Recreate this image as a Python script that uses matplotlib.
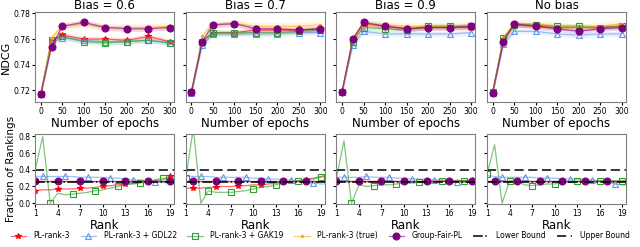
import numpy as np
import matplotlib.pyplot as plt
from matplotlib.colors import to_rgba

epochs = [0, 25, 50, 100, 150, 200, 250, 300]
ranks = list(range(1, 21))
titles = ["Bias = 0.6", "Bias = 0.7", "Bias = 0.9", "No bias"]
names = ["PL-rank-3", "PL-rank-3 + GDL22", "PL-rank-3 + GAK19", "PL-rank-3 (true)", "Group-Fair-PL"]

# NDCG per panel, one row per method (same order as names)
ndcg = [
    [[0.717, 0.759, 0.763, 0.760, 0.760, 0.759, 0.762, 0.758],
     [0.717, 0.757, 0.761, 0.759, 0.758, 0.758, 0.759, 0.757],
     [0.717, 0.759, 0.762, 0.758, 0.757, 0.758, 0.759, 0.757],
     [0.716, 0.761, 0.770, 0.772, 0.769, 0.769, 0.769, 0.770],
     [0.717, 0.754, 0.770, 0.773, 0.769, 0.768, 0.768, 0.769]],
    [[0.719, 0.758, 0.765, 0.765, 0.767, 0.767, 0.767, 0.768],
     [0.718, 0.755, 0.764, 0.764, 0.764, 0.764, 0.765, 0.765],
     [0.719, 0.758, 0.765, 0.765, 0.765, 0.765, 0.766, 0.767],
     [0.718, 0.762, 0.772, 0.772, 0.770, 0.770, 0.770, 0.771],
     [0.719, 0.758, 0.771, 0.772, 0.768, 0.768, 0.767, 0.768]],
    [[0.719, 0.760, 0.772, 0.770, 0.768, 0.769, 0.769, 0.769],
     [0.719, 0.755, 0.766, 0.764, 0.764, 0.764, 0.764, 0.765],
     [0.719, 0.758, 0.769, 0.768, 0.767, 0.770, 0.770, 0.770],
     [0.718, 0.760, 0.772, 0.771, 0.770, 0.770, 0.770, 0.771],
     [0.719, 0.760, 0.773, 0.770, 0.768, 0.769, 0.769, 0.770]],
    [[0.719, 0.760, 0.771, 0.770, 0.769, 0.769, 0.769, 0.770],
     [0.718, 0.756, 0.766, 0.766, 0.764, 0.763, 0.764, 0.764],
     [0.719, 0.761, 0.771, 0.771, 0.770, 0.770, 0.769, 0.770],
     [0.718, 0.761, 0.772, 0.772, 0.770, 0.769, 0.770, 0.772],
     [0.718, 0.758, 0.772, 0.770, 0.768, 0.766, 0.768, 0.769]],
]
spread = [0.002, 0.002, 0.002, 0.003, 0.002]

# fraction of rankings vs rank, per panel
frac = [
    [[0.15, 0.16, 0.16, 0.17, 0.17, 0.17, 0.18, 0.18, 0.19, 0.20, 0.21, 0.22, 0.23, 0.24, 0.25, 0.26, 0.27, 0.28, 0.32, 0.33],
     [0.32, 0.32, 0.32, 0.32, 0.32, 0.32, 0.31, 0.31, 0.31, 0.31, 0.30, 0.30, 0.29, 0.28, 0.28, 0.26, 0.25, 0.25, 0.24, 0.24],
     [0.40, 0.80, 0.00, 0.12, 0.10, 0.11, 0.12, 0.13, 0.15, 0.16, 0.18, 0.20, 0.22, 0.23, 0.24, 0.26, 0.28, 0.30, 0.30, 0.31],
     [0.26, 0.26, 0.26, 0.26, 0.26, 0.26, 0.26, 0.26, 0.26, 0.26, 0.26, 0.26, 0.26, 0.26, 0.26, 0.26, 0.26, 0.26, 0.26, 0.26],
     [0.27, 0.27, 0.27, 0.27, 0.27, 0.27, 0.27, 0.27, 0.27, 0.27, 0.27, 0.27, 0.27, 0.27, 0.27, 0.27, 0.27, 0.27, 0.27, 0.27]],
    [[0.18, 0.18, 0.18, 0.19, 0.19, 0.20, 0.20, 0.21, 0.21, 0.22, 0.22, 0.23, 0.24, 0.25, 0.26, 0.27, 0.28, 0.30, 0.32, 0.34],
     [0.32, 0.32, 0.32, 0.32, 0.31, 0.31, 0.31, 0.31, 0.31, 0.30, 0.30, 0.29, 0.29, 0.28, 0.28, 0.26, 0.25, 0.24, 0.23, 0.23],
     [0.30, 0.90, 0.00, 0.15, 0.13, 0.13, 0.13, 0.14, 0.15, 0.17, 0.19, 0.20, 0.22, 0.24, 0.25, 0.27, 0.28, 0.29, 0.31, 0.33],
     [0.27, 0.27, 0.27, 0.27, 0.27, 0.27, 0.27, 0.27, 0.27, 0.27, 0.27, 0.27, 0.27, 0.27, 0.27, 0.27, 0.27, 0.27, 0.27, 0.27],
     [0.27, 0.27, 0.27, 0.27, 0.27, 0.27, 0.27, 0.27, 0.27, 0.27, 0.27, 0.27, 0.27, 0.27, 0.27, 0.27, 0.27, 0.27, 0.27, 0.27]],
    [[0.26, 0.26, 0.26, 0.26, 0.26, 0.26, 0.26, 0.26, 0.26, 0.26, 0.26, 0.26, 0.26, 0.26, 0.27, 0.27, 0.27, 0.27, 0.28, 0.28],
     [0.31, 0.31, 0.31, 0.31, 0.32, 0.31, 0.31, 0.31, 0.30, 0.30, 0.29, 0.29, 0.28, 0.28, 0.28, 0.27, 0.25, 0.25, 0.25, 0.25],
     [0.30, 0.75, 0.00, 0.22, 0.20, 0.21, 0.22, 0.22, 0.23, 0.24, 0.24, 0.25, 0.25, 0.26, 0.26, 0.26, 0.27, 0.27, 0.27, 0.27],
     [0.26, 0.26, 0.26, 0.26, 0.26, 0.26, 0.26, 0.26, 0.26, 0.26, 0.26, 0.26, 0.26, 0.26, 0.26, 0.26, 0.26, 0.26, 0.26, 0.26],
     [0.27, 0.27, 0.27, 0.27, 0.27, 0.27, 0.27, 0.27, 0.27, 0.27, 0.27, 0.27, 0.27, 0.27, 0.27, 0.27, 0.27, 0.27, 0.27, 0.27]],
    [[0.27, 0.27, 0.27, 0.27, 0.27, 0.27, 0.27, 0.27, 0.27, 0.27, 0.27, 0.27, 0.27, 0.27, 0.27, 0.27, 0.27, 0.27, 0.27, 0.27],
     [0.33, 0.32, 0.31, 0.31, 0.31, 0.31, 0.31, 0.30, 0.30, 0.30, 0.29, 0.29, 0.29, 0.28, 0.28, 0.27, 0.25, 0.23, 0.22, 0.22],
     [0.35, 0.70, 0.00, 0.27, 0.26, 0.22, 0.21, 0.22, 0.23, 0.23, 0.25, 0.26, 0.26, 0.26, 0.26, 0.27, 0.27, 0.27, 0.27, 0.27],
     [0.27, 0.27, 0.27, 0.27, 0.27, 0.27, 0.27, 0.27, 0.27, 0.27, 0.27, 0.27, 0.27, 0.27, 0.27, 0.27, 0.27, 0.27, 0.27, 0.27],
     [0.27, 0.27, 0.27, 0.27, 0.27, 0.27, 0.27, 0.27, 0.27, 0.27, 0.27, 0.27, 0.27, 0.27, 0.27, 0.27, 0.27, 0.27, 0.27, 0.27]],
]
lower_bound = 0.25
upper_bound = 0.40

colors = ["red", "cornflowerblue", "tab:green", "orange", "purple"]
markers = ["*", "^", "s", ".", "o"]
mfill = [True, False, False, True, True]
msize = [4, 4, 4, 3, 5]
mark_start = [0, 1, 2, 3, 3]
panel_shift = [0, 1, 0, 1]

fig = plt.figure(figsize=(6.4, 2.47), dpi=100)
gs = fig.add_gridspec(2, 4, height_ratios=[91, 71], left=0.055, right=0.978,
                      top=0.951, bottom=0.174, wspace=0.085, hspace=0.40)

handles = []
for p in range(4):
    ax = fig.add_subplot(gs[0, p])
    for k in range(5):
        y = np.array(ndcg[p][k])
        ax.fill_between(epochs, y - spread[k], y + spread[k], color=colors[k], alpha=0.13, lw=0)
        h, = ax.plot(epochs, y, color=to_rgba(colors[k], 0.6), lw=0.9, marker=markers[k],
                     ms=msize[k], mec=colors[k],
                     mfc=colors[k] if mfill[k] else "none", mew=0.8)
        if p == 0:
            handles.append(h)
    ax.set_ylim(0.711, 0.781)
    ax.set_xlim(-13, 310)
    ax.set_xticks([0, 50, 100, 150, 200, 250, 300])
    ax.set_yticks([0.72, 0.74, 0.76, 0.78])
    ax.set_title(titles[p], fontsize=8.5, pad=2)
    ax.set_xlabel("Number of epochs", fontsize=8.5, labelpad=1)
    ax.tick_params(labelsize=5.5, length=2, pad=1.5)
    if p == 0:
        ax.set_ylabel("NDCG", fontsize=8, labelpad=1.5)
    else:
        ax.set_yticklabels([])
    for s in ax.spines.values():
        s.set_color("0.5")

    ax = fig.add_subplot(gs[1, p])
    for k in range(5):
        ax.plot(ranks, frac[p][k], color=to_rgba(colors[k], 0.6), lw=0.9, marker=markers[k],
                ms=msize[k], mec=colors[k], mfc=colors[k] if mfill[k] else "none", mew=0.8,
                markevery=((mark_start[k] + panel_shift[p]) % 3, 3))
    lb, = ax.plot([1, 20], [lower_bound, lower_bound], color="black", ls="-.", lw=1.1)
    ub, = ax.plot([1, 20], [upper_bound, upper_bound], color="black", ls="--", lw=1.1, dashes=(6, 3))
    if p == 0:
        handles += [lb, ub]
    ax.set_xlim(1, 19.5)
    ax.set_ylim(-0.01, 0.83)
    ax.set_xticks([1, 4, 7, 10, 13, 16, 19])
    ax.set_yticks([0.0, 0.2, 0.4, 0.6, 0.8])
    ax.set_xlabel("Rank", fontsize=8.5, labelpad=1)
    ax.tick_params(labelsize=5.5, length=2, pad=1.5)
    if p == 0:
        ax.set_ylabel("Fraction of Rankings", fontsize=7.5, labelpad=1.5)
    else:
        ax.set_yticklabels([])
    for s in ax.spines.values():
        s.set_color("0.5")

fig.legend(handles, names + ["Lower Bound", "Upper Bound"], loc="center",
           bbox_to_anchor=(0.5, 0.045), ncol=7, frameon=False, fontsize=5.5,
           handlelength=2.0, columnspacing=1.4, handletextpad=1.0)

plt.savefig("out.png", dpi=100)
